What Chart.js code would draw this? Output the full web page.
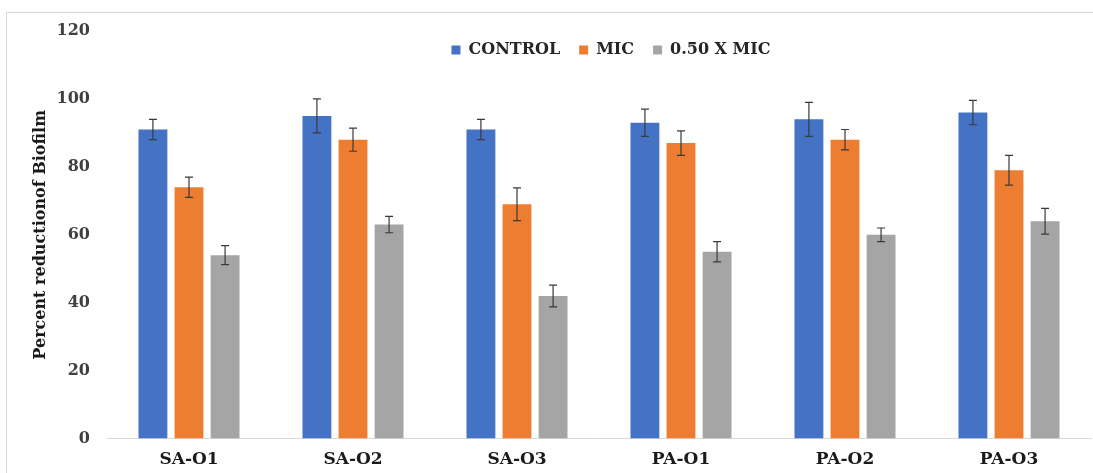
<!DOCTYPE html>
<html>
<head>
<meta charset="utf-8">
<script src="https://cdn.jsdelivr.net/npm/chart.js@4/dist/chart.umd.min.js"></script>
<style>
  body { margin: 0; background: #fff; }
  #frame { position: absolute; left: 6px; top: 12px; width: 1100px; height: 480px; border: 1.5px solid #d9d9d9; box-sizing: border-box; }
  #wrap { position: absolute; left: 0; top: 0; width: 1093px; height: 473px; }
</style>
</head>
<body>
<div id="frame"></div>
<div id="wrap"><canvas id="chart"></canvas></div>
<script>
const strains = ['SA-O1', 'SA-O2', 'SA-O3', 'PA-O1', 'PA-O2', 'PA-O3']

const control = [91, 95, 91, 93, 94, 96]
const mic = [74, 88, 69, 87, 88, 79]
const halfMic = [54, 63, 42, 55, 60, 64]

// error bar sizes (+/-)
const controlErr = [3, 5, 3, 4, 5, 3.6]
const micErr = [3, 3.4, 4.8, 3.6, 3, 4.4]
const halfMicErr = [2.8, 2.4, 3.2, 3, 2, 3.8]

const yTicks = [0, 20, 40, 60, 80, 100, 120]

const serif = '"DejaVu Serif", "Liberation Serif", serif'

function make_dataset(label, values, errs, colour) {
    return {
        label: label,
        data: values,
        errors: errs,
        backgroundColor: colour,
        borderWidth: 0,
        categoryPercentage: 0.66,
        barPercentage: 0.8
    }
}

// draws the error bars using the chart's own scales
const errorBars = {
    id: 'errorBars',
    afterDatasetsDraw(chart) {
        const ctx = chart.ctx
        const y = chart.scales.y
        ctx.save()
        ctx.strokeStyle = '#3a3a3a'
        ctx.lineWidth = 1.2
        chart.data.datasets.forEach((ds, i) => {
            const meta = chart.getDatasetMeta(i)
            meta.data.forEach((bar, j) => {
                const v = ds.data[j], e = ds.errors[j]
                const top = y.getPixelForValue(v + e)
                const bot = y.getPixelForValue(v - e)
                const x = bar.x
                ctx.beginPath()
                ctx.moveTo(x, top); ctx.lineTo(x, bot)
                ctx.moveTo(x - 4, top); ctx.lineTo(x + 4, top)
                ctx.moveTo(x - 4, bot); ctx.lineTo(x + 4, bot)
                ctx.stroke()
            })
        })
        ctx.restore()
    }
}

// legend sits inside the plot like the excel one: take no room during layout,
// then give its height back so it isn't clipped, and nudge it into place
const floatingLegend = {
    id: 'floatingLegend',
    beforeInit(chart) {
        const fit = chart.legend.fit
        chart.legend.fit = function () {
            fit.call(this)
            this._realHeight = this.height
            this.height = 0
        }
    },
    afterLayout(chart) {
        const lg = chart.legend
        lg.left += 53
        lg.right += 53
        lg.top -= 8
        lg.height = lg._realHeight
        lg.bottom = lg.top + lg.height
    }
}

const data = {
    labels: strains,
    datasets: [
        make_dataset('CONTROL', control, controlErr, '#4472C4'),
        make_dataset('MIC', mic, micErr, '#ED7D31'),
        make_dataset('0.50 X MIC', halfMic, halfMicErr, '#A5A5A5')
    ]
}

const config = {
    type: 'bar',
    data: data,
    plugins: [errorBars, floatingLegend],
    options: {
        responsive: false,
        animation: false,
        layout: { padding: { left: 25, right: 2, top: 31, bottom: 0 } },
        plugins: {
            tooltip: { enabled: false },
            legend: {
                position: 'top',
                align: 'center',
                labels: {
                    boxWidth: 9,
                    boxHeight: 9,
                    padding: 19,
                    color: '#262626',
                    font: { family: serif, size: 16, weight: 'bold' }
                }
            }
        },
        scales: {
            x: {
                grid: { display: false },
                border: { display: true, color: '#d9d9d9', width: 1 },
                ticks: {
                    color: '#1a1a1a',
                    padding: 3,
                    font: { family: serif, size: 17, weight: 'bold' }
                }
            },
            y: {
                min: 0,
                max: 120,
                afterBuildTicks: s => { s.ticks = yTicks.map(v => ({ value: v })) },
                afterFit: s => { s.width = 82 },
                grid: { display: false },
                border: { display: false },
                ticks: {
                    color: '#404040',
                    padding: 9,
                    font: { family: serif, size: 16, weight: 'bold' }
                },
                title: {
                    display: true,
                    text: 'Percent reductionof Biofilm',
                    color: '#1a1a1a',
                    padding: { top: 6, bottom: 0 },
                    font: { family: serif, size: 16, weight: 'bold' }
                }
            }
        }
    }
}

const canvas = document.getElementById('chart')
canvas.width = 1093
canvas.height = 473
new Chart(canvas, config)
</script>
</body>
</html>
